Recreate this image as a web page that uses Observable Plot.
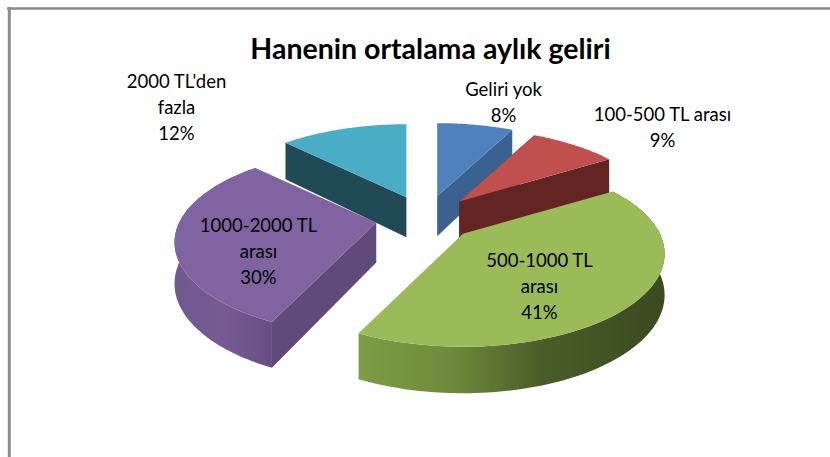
<!DOCTYPE html>
<html><head><meta charset="utf-8">
<script src="https://cdn.jsdelivr.net/npm/d3@7"></script>
<script src="https://cdn.jsdelivr.net/npm/@observablehq/plot@0.6"></script>
<style>html,body{margin:0;padding:0;background:#fff}svg{display:block}</style>
</head><body><div id="chart"></div>
<script>
const categories = ["Geliri yok","100-500 TL arası","500-1000 TL arası","1000-2000 TL arası","2000 TL'den fazla"];
const shares = [7.5,8.6,40.9,30.49,12.49];
const topColors = ["#4f81bd","#c0504d","#9bbb59","#8064a2","#4bacc6"];
const wallColors = ["#3a6291","#632523","#5f7a33","#5f4a7a","#1f4a56"];
const title = "Hanenin ortalama aylık geliri";

// 3-D pie view
const view = {cx:425, cy:218, ex:50, ey:23, a:197, b:88.7, k:0.215, depth:40, kd:0.14};
const project = (t, off=[0,0]) => {
  const X = Math.sin(t), Y = Math.cos(t), w = 1 + view.k*Y;
  return [off[0] + view.a*X/w, off[1] - view.b*Y/w, 1 + view.kd*Y];
};
const total = d3.sum(shares);
let acc = 0;
const slices = shares.map((v,i)=>{
  const t0 = acc/total*2*Math.PI; acc += v; const t1 = acc/total*2*Math.PI;
  const m = (t0+t1)/2;
  const apex = [view.cx + view.ex*Math.sin(m), view.cy - view.ey*Math.cos(m)];
  const ts = d3.range(0,61).map(j=>t0+(t1-t0)*j/60);
  const rim = ts.map(t=>project(t,apex));
  return {i,t0,t1,apex,ts,rim};
});
const poly = pts => pts.map(p=>({x:p[0],y:p[1]}));
const down = p => [p[0],p[1]+view.depth/p[2]];
const face = s => poly([s.apex,...s.rim]);
const cutA = s => poly([s.apex,s.rim[0],down(s.rim[0]),down([...s.apex,1])]);
const cutB = s => poly([s.apex,s.rim[60],down(s.rim[60]),down([...s.apex,1])]);
const outer = s => poly([...s.rim,...s.rim.slice().reverse().map(down)]);
const shape = (pts,fill)=>Plot.line(pts,{x:"x",y:"y",fill,stroke:"none",curve:"linear-closed"});
const [blue,red,green,purple,cyan] = slices;
const defs = ()=>{
  const svg = d3.create("svg:defs");
  const grad=(id,stops)=>{const g=svg.append("linearGradient").attr("id",id);
    stops.forEach(([o,c])=>g.append("stop").attr("offset",o).attr("stop-color",c));};
  grad("gGreen",[[0,"#7d9c45"],[0.3,"#6f8a3c"],[0.6,"#4a5d28"],[1,"#3b4a20"]]);
  grad("gPurple",[[0,"#705891"],[0.5,"#755b92"],[1,"#664e85"]]);
  return svg.node();
};
const labelSize = 18.5;
const labels = [
  {t:title,x:430,y:45,size:28.5,w:"bold"},
  {t:"2000 TL'den\nfazla\n12%",x:176,y:105,size:labelSize},
  {t:"Geliri yok\n8%",x:503,y:100,size:labelSize},
  {t:"100-500 TL arası\n9%",x:662,y:125,size:labelSize},
  {t:"500-1000 TL\narası\n41%",x:539,y:284,size:labelSize},
  {t:"1000-2000 TL\narası\n30%",x:258,y:249,size:labelSize}
];
const plot = Plot.plot({
  width:830,height:457,margin:0,
  x:{domain:[0,830],range:[0,830],axis:null},
  y:{domain:[0,457],range:[0,457],axis:null},
  marks:[
    Plot.ruleX([8.8],{y1:7,y2:457,stroke:"#8c8c8c",strokeWidth:3}),
    Plot.ruleY([8],{x1:7,x2:830,stroke:"#8c8c8c",strokeWidth:2.6}),
    defs,
    shape(cutB(cyan),wallColors[4]),
    shape(cutA(cyan),wallColors[4]),
    shape(face(cyan),topColors[4]),
    shape(cutA(blue),wallColors[0]),
    shape(cutB(blue),wallColors[0]),
    shape(face(blue),topColors[0]),
    shape(cutB(red),wallColors[1]),
    shape(cutA(red),wallColors[1]),
    shape(face(red),topColors[1]),
    shape(outer(purple),"url(#gPurple)"),
    shape(cutA(purple),wallColors[3]),
    shape(face(purple),topColors[3]),
    shape(outer(green),"url(#gGreen)"),
    shape(face(green),topColors[2]),
    ...labels.map(l=>Plot.text([l],{x:"x",y:"y",text:"t",fontSize:l.size,fontWeight:l.w||"normal",fontFamily:"Lato",fill:"#000",lineHeight:1.43,textAnchor:"middle"}))
  ]
});
document.getElementById("chart").append(plot);
</script></body></html>
